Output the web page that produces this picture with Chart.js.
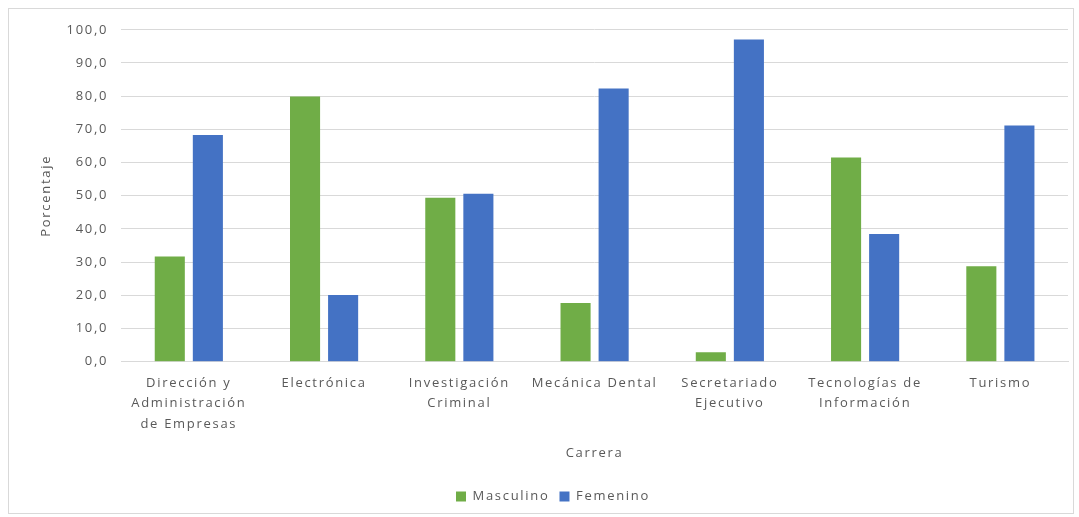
<!DOCTYPE html>
<html>
<head>
<meta charset="utf-8">
<script src="https://cdn.jsdelivr.net/npm/chart.js@4"></script>
<style>
  html, body { margin: 0; padding: 0; background: #fff; }
  #box { position: absolute; left: 8px; top: 8px; width: 1066px; height: 506px; border: 1px solid #d9d9d9; box-sizing: border-box; }
  canvas { display: block; }
</style>
</head>
<body>
<div id="box"><canvas id="c"></canvas></div>
<script>
const categories = [
  ['Dirección y', 'Administración', 'de Empresas'],
  'Electrónica',
  ['Investigación', 'Criminal'],
  'Mecánica Dental',
  ['Secretariado', 'Ejecutivo'],
  ['Tecnologías de', 'Información'],
  'Turismo'
];
const masculino = [31.7, 79.9, 49.4, 17.7, 2.9, 61.5, 28.8];
const femenino  = [68.3, 20.1, 50.6, 82.3, 97.1, 38.5, 71.2];
const yTicks = [0, 10, 20, 30, 40, 50, 60, 70, 80, 90, 100];

const FONT = "'Open Sans', 'DejaVu Sans', sans-serif";
const GRAY = '#595959';
const SPACING = '1.7px';

const letterSpacingPlugin = {
  id: 'ls',
  beforeUpdate(chart) { chart.ctx.letterSpacing = SPACING; },
  beforeLayout(chart) { chart.ctx.letterSpacing = SPACING; },
  beforeDraw(chart) { chart.ctx.letterSpacing = SPACING; }
};

new Chart(document.getElementById('c'), {
  type: 'bar',
  plugins: [letterSpacingPlugin],
  data: {
    labels: categories,
    datasets: [
      { label: 'Masculino', data: masculino, backgroundColor: '#70ad47', categoryPercentage: 0.563, barPercentage: 0.79 },
      { label: 'Femenino', data: femenino, backgroundColor: '#4472c4', categoryPercentage: 0.563, barPercentage: 0.79 }
    ]
  },
  options: {
    responsive: true,
    maintainAspectRatio: false,
    animation: false,
    layout: { padding: { left: 29, right: 5, top: 13, bottom: 0 } },
    plugins: {
      legend: {
        position: 'bottom',
        labels: { boxWidth: 10, boxHeight: 10, color: GRAY, font: { family: FONT, size: 13 }, padding: 10 }
      },
      tooltip: { enabled: false }
    },
    scales: {
      x: {
        grid: { display: false, drawTicks: false },
        border: { color: '#d9d9d9' },
        ticks: { color: GRAY, font: { family: FONT, size: 13, lineHeight: 1.58 }, maxRotation: 0, autoSkip: false, padding: 11 },
        title: { display: true, text: 'Carrera', color: GRAY, font: { family: FONT, size: 13 }, padding: { top: 0, bottom: 19 } }
      },
      y: {
        min: 0, max: 100,
        afterBuildTicks: (axis) => { axis.ticks = yTicks.map(v => ({ value: v })); },
        grid: { color: '#d9d9d9', drawTicks: false },
        border: { display: false },
        ticks: { color: GRAY, font: { family: FONT, size: 13 }, padding: 13,
          callback: (v) => Number(v).toFixed(1).replace('.', ',') },
        title: { display: true, text: 'Porcentaje', color: GRAY, font: { family: FONT, size: 13 }, padding: { top: 0, bottom: 0 } }
      }
    }
  }
});
</script>
</body>
</html>
